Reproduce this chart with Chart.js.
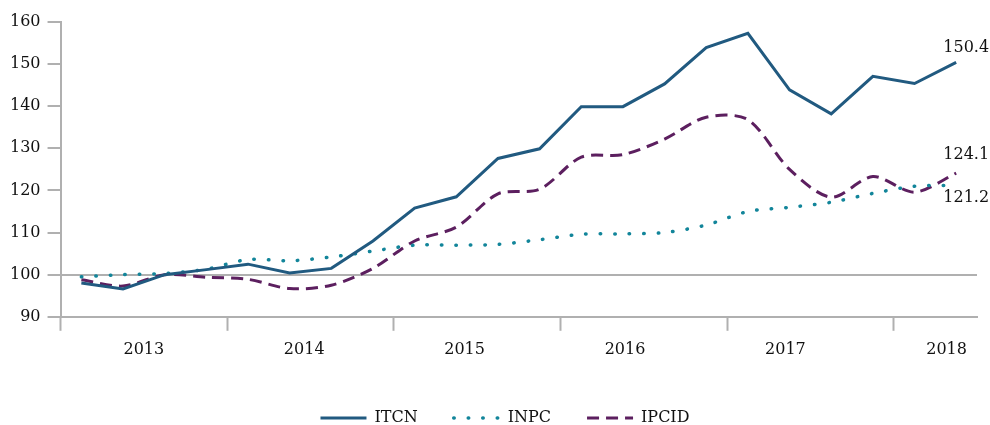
<!DOCTYPE html>
<html lang="es">
<head>
<meta charset="UTF-8">
<title>ITCN, INPC e IPCID</title>
<script src="https://cdn.jsdelivr.net/npm/chart.js"></script>
<style>
  html, body { margin: 0; background: #fff; }
  #wrap { width: 990px; height: 425px; }
</style>
</head>
<body>
<div id="wrap"><canvas id="chart"></canvas></div>
<script>
// quarterly values, 2013-T1 .. 2018-T2
const quarters = [
  '2013-T1', '2013-T2', '2013-T3', '2013-T4',
  '2014-T1', '2014-T2', '2014-T3', '2014-T4',
  '2015-T1', '2015-T2', '2015-T3', '2015-T4',
  '2016-T1', '2016-T2', '2016-T3', '2016-T4',
  '2017-T1', '2017-T2', '2017-T3', '2017-T4',
  '2018-T1', '2018-T2'
];
const years = ['2013', '2014', '2015', '2016', '2017', '2018'];
const itcn  = [98.0, 96.6, 100.0, 101.2, 102.5, 100.4, 101.5, 108.0, 115.8, 118.5, 127.6, 129.9,
               139.9, 139.9, 145.3, 153.9, 157.3, 143.9, 138.2, 147.1, 145.4, 150.4];
const inpc  = [99.5, 100.0, 100.3, 101.3, 103.6, 103.3, 104.2, 105.6, 107.0, 107.0, 107.2, 108.3,
               109.6, 109.7, 110.0, 111.8, 115.0, 116.0, 117.2, 119.3, 121.0, 121.2];
const ipcid = [98.8, 97.3, 100.0, 99.4, 98.9, 96.7, 97.5, 101.5, 108.0, 111.3, 119.2, 120.3,
               127.9, 128.5, 132.2, 137.4, 136.8, 125.0, 118.4, 123.3, 119.6, 124.1];

// x axis: boundaries between years and where the year labels sit
const yearBounds = [-0.5, 3.5, 7.5, 11.5, 15.5, 19.5];
const yearLabelAt = [1.5, 5.35, 9.2, 13.05, 16.9, 20.77];

const serif = "'DejaVu Serif', serif";
const axisGray = '#b0b0b0';
Chart.defaults.font.family = serif;
Chart.defaults.font.size = 16;
Chart.defaults.color = '#111';

const toPoints = arr => arr.map((v, i) => ({ x: i, y: v }));

// value at the end of each line
const endLabels = {
  id: 'endLabels',
  afterDatasetsDraw(chart, args, opts) {
    const ctx = chart.ctx;
    ctx.save();
    ctx.font = '16px ' + serif;
    ctx.fillStyle = '#111';
    ctx.textAlign = 'center';
    ctx.textBaseline = 'middle';
    chart.data.datasets.forEach((ds, i) => {
      const meta = chart.getDatasetMeta(i);
      const pt = meta.data[meta.data.length - 1];
      const v = ds.data[ds.data.length - 1].y;
      ctx.fillText(v.toFixed(1), pt.x + opts.dx, pt.y + opts.dy[i]);
    });
    ctx.restore();
  }
};

// legend sits a little right of the canvas centre
const legendShift = {
  id: 'legendShift',
  afterLayout(chart, args, opts) {
    chart.legend.left += opts.dx;
    chart.legend.right += opts.dx;
  }
};

new Chart(document.getElementById('chart'), {
  type: 'line',
  data: {
    datasets: [
      { label: 'ITCN', data: toPoints(itcn), borderColor: '#215a80', borderWidth: 3,
        tension: 0, pointRadius: 0 },
      { label: 'INPC', data: toPoints(inpc), borderColor: '#12859a', borderWidth: 3.5,
        borderDash: [0.5, 14], borderCapStyle: 'round', tension: 0.3, pointRadius: 0 },
      { label: 'IPCID', data: toPoints(ipcid), borderColor: '#5c1f5f', borderWidth: 3,
        borderDash: [12, 7], tension: 0.3, pointRadius: 0 }
    ]
  },
  options: {
    responsive: true,
    maintainAspectRatio: false,
    animation: false,
    layout: { padding: { left: 3, right: 13, top: 22, bottom: -11 } },
    plugins: {
      legend: {
        position: 'bottom',
        labels: {
          usePointStyle: true, pointStyle: 'line', pointStyleWidth: 46, boxHeight: 10,
          padding: 36, font: { size: 16 },
          // legend symbols take the dataset line style
          generateLabels: chart => Chart.defaults.plugins.legend.labels.generateLabels(chart).map((it, i) => {
            const ds = chart.data.datasets[i];
            return Object.assign(it, {
              pointStyle: 'line', strokeStyle: ds.borderColor, lineWidth: ds.borderWidth,
              lineDash: ds.borderDash || [], lineCap: ds.borderCapStyle || 'butt'
            });
          })
        }
      },
      tooltip: { enabled: false },
      endLabels: { dx: 10, dy: [-15, 12, -18] },
      legendShift: { dx: 15 }
    },
    scales: {
      x: {
        type: 'linear', min: -0.5, max: 21.5,
        afterBuildTicks: s => {
          s.ticks = [...yearBounds, ...yearLabelAt].sort((a, b) => a - b).map(v => ({ value: v }));
        },
        afterFit: s => { s.height += 6; },
        grid: {
          drawOnChartArea: false, tickLength: 14, tickWidth: 2,
          tickColor: c => yearBounds.includes(c.tick && c.tick.value) ? axisGray : 'transparent'
        },
        border: { color: axisGray, width: 2 },
        ticks: {
          autoSkip: false, maxRotation: 0, padding: 9,
          callback: v => { const k = yearLabelAt.indexOf(v); return k >= 0 ? years[k] : ''; }
        }
      },
      y: {
        min: 90, max: 160,
        ticks: { stepSize: 10, padding: 7 },
        grid: {
          color: c => (c.tick && c.tick.value === 100) ? axisGray : 'transparent',
          tickColor: axisGray, tickLength: 13, lineWidth: 2
        },
        border: { color: axisGray, width: 2 }
      }
    }
  },
  plugins: [endLabels, legendShift]
});
</script>
</body>
</html>
